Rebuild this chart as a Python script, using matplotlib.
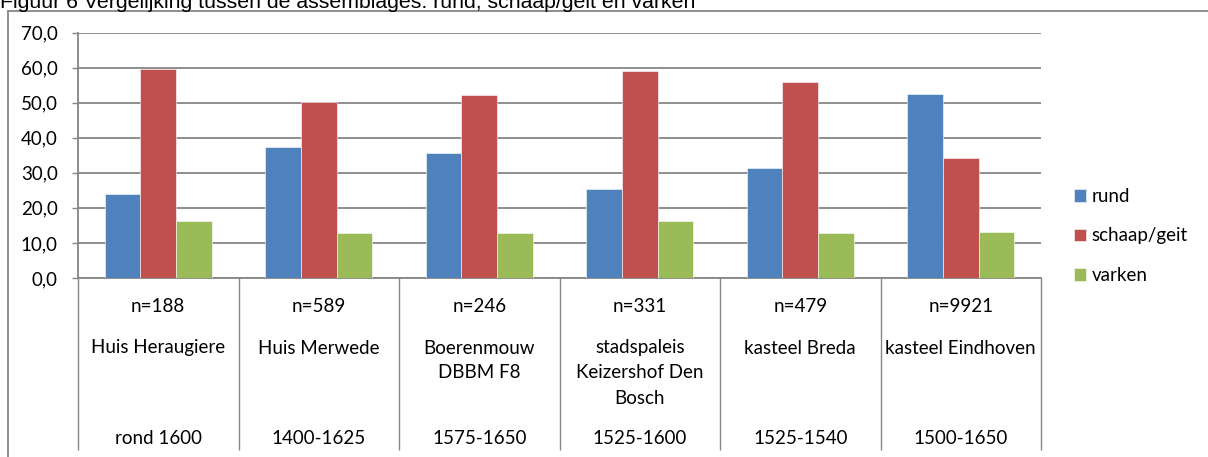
import numpy as np
import matplotlib.pyplot as plt
from matplotlib.lines import Line2D

# data
sites = ["Huis Heraugiere", "Huis Merwede", "Boerenmouw\nDBBM F8",
         "stadspaleis\nKeizershof Den\nBosch", "kasteel Breda", "kasteel Eindhoven"]
n_labels = ["n=188", "n=589", "n=246", "n=331", "n=479", "n=9921"]
periods = ["rond 1600", "1400-1625", "1575-1650", "1525-1600", "1525-1540", "1500-1650"]
series = ["rund", "schaap/geit", "varken"]
rund = [23.9, 37.3, 35.5, 25.3, 31.5, 52.6]
schaap = [59.7, 50.3, 52.2, 58.9, 55.8, 34.3]
varken = [16.3, 12.7, 12.7, 16.3, 12.7, 13.1]
colors = ["#4F81BD", "#C0504D", "#9BBB59"]
title = "Figuur 6 Vergelijking tussen de assemblages: rund, schaap/geit en varken"

W, H = 1208, 457
fig = plt.figure(figsize=(W / 100, H / 100), dpi=100)
ax = fig.add_axes([78 / W, 1 - 278 / H, (1041 - 78) / W, (278 - 32.5) / H])

font = ["Lato", "DejaVu Sans"]
fs = 13.5
grey = "#868686"

x = np.arange(len(sites))
bw = 1 / 4.5
for i, (vals, name) in enumerate(zip([rund, schaap, varken], series)):
    ax.bar(x + (i - 1) * bw, vals, bw, color=colors[i], label=name,
           edgecolor="white", linewidth=0.4, zorder=3)

ax.set_xlim(-0.5, len(sites) - 0.5)
ax.set_ylim(0, 70)
ax.set_yticks(np.arange(0, 71, 10))
ax.set_yticklabels([f"{v:.1f}".replace(".", ",") for v in np.arange(0, 71, 10)],
                   fontsize=fs, family=font)
ax.yaxis.grid(True, color=grey, linewidth=1.3, zorder=0)
ax.tick_params(axis="y", direction="out", length=4.5, width=1, color=grey, pad=10)

# category boundaries as long ticks forming the label table
ax.set_xticks(np.arange(len(sites) + 1) - 0.5)
ax.set_xticklabels([])
ax.tick_params(axis="x", direction="out", length=124, width=1, color=grey)

for s in ["top", "right"]:
    ax.spines[s].set_visible(False)
for s in ["left", "bottom"]:
    ax.spines[s].set_color(grey)
    ax.spines[s].set_linewidth(1.3)

def row_text(xi, txt, off_px):
    ax.annotate(txt, xy=(xi, 0), xycoords=("data", "axes fraction"),
                xytext=(0, -off_px * 0.72), textcoords="offset points",
                ha="center", va="center", fontsize=fs, family=font,
                annotation_clip=False)

for i in range(len(sites)):
    row_text(i, n_labels[i], 28)
    for j, line in enumerate(sites[i].split("\n")):
        row_text(i, line, 70 + 25 * j)
    row_text(i, periods[i], 161)

fig.legend(loc="center left", bbox_to_anchor=(1057 / W, 1 - 236 / H),
           frameon=False, prop={"family": font, "size": fs},
           handlelength=0.65, handleheight=0.65, handletextpad=0.3,
           labelspacing=1.2)

# outer chart frame (cropped)
fig.add_artist(Line2D([8 / W, 1], [1 - 11 / H] * 2, color=grey, linewidth=1.3))
fig.add_artist(Line2D([8 / W] * 2, [0, 1 - 11 / H], color=grey, linewidth=1.3))

fig.text(0, 1 - 8 / H, title, va="baseline", ha="left", fontsize=15.3,
         family=["Liberation Sans", "DejaVu Sans"])

fig.savefig("out.png", dpi=100)
